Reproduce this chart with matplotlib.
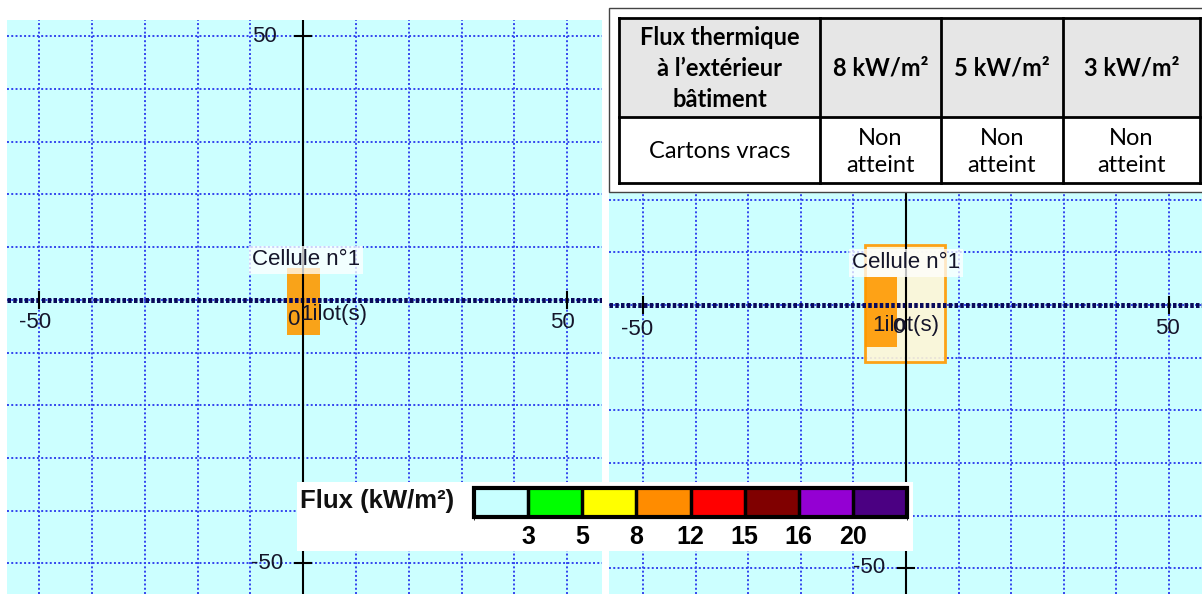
import matplotlib
matplotlib.use("Agg")
import matplotlib.pyplot as plt
import matplotlib.patches as patches
from matplotlib.colors import ListedColormap, BoundaryNorm
from matplotlib.cm import ScalarMappable

# --- data ---------------------------------------------------------------
# left map: one orange ilot (x0, x1, y0, y1)
left_ilots = [(-3.0, 3.2, -6.6, 6.1)]
left_ilot_colors = ["#ff9900"]
# right map: cell outline + orange ilot
right_ilots = [(-7.8, 7.4, -10.8, 11.4), (-7.8, -1.7, -8.0, 5.3)]
right_ilot_colors = ["#fff6d6", "#ff9900"]

cell_label = "Cellule n°1"
ilot_label = "1ilot(s)"

flux_bounds = [0, 3, 5, 8, 12, 15, 16, 20, 25]
flux_ticks = [3, 5, 8, 12, 15, 16, 20]
flux_colors = ["#c8ffff", "#00ff00", "#ffff00", "#ff8c00",
               "#ff0000", "#800000", "#9400d3", "#4b0082"]

table_header = ["Flux thermique\nà l’extérieur\nbâtiment", "8 kW/m²", "5 kW/m²", "3 kW/m²"]
table_row = ["Cartons vracs", "Non\natteint", "Non\natteint", "Non\natteint"]

W, H = 1202, 594
fig = plt.figure(figsize=(W / 100, H / 100), dpi=100)
fig.patch.set_facecolor("white")

txt = dict(family="Liberation Sans", color="#15152a")


def draw_map(rect, xlim, ylim, ilots, colors, labels):
    ax = fig.add_axes(rect)
    ax.set_xlim(*xlim)
    ax.set_ylim(*ylim)
    ax.set_facecolor("#ccffff")
    for s in ax.spines.values():
        s.set_visible(False)
    ax.set_xticks(range(-50, 60, 10))
    ax.set_yticks(range(-50, 60, 10))
    ax.tick_params(length=0, labelbottom=False, labelleft=False)
    ax.grid(True, color="#3344ee", linestyle=(0, (1, 1.2)), linewidth=1.4)
    ax.set_axisbelow(True)

    for i, (x0, x1, y0, y1) in enumerate(ilots):
        ec = "#ff9900" if i == 0 and len(ilots) > 1 else "none"
        ax.add_patch(patches.Rectangle((x0, y0), x1 - x0, y1 - y0,
                                       facecolor=colors[i], edgecolor=ec,
                                       lw=2, alpha=0.9, zorder=2))

    # axes through origin
    ax.axhline(0, color="#0a0a5a", lw=3.6, linestyle=(0, (0.7, 0.45)), zorder=3)
    ax.axvline(0, color="black", lw=1.5, zorder=3)
    for v in (-50, 50):
        ax.plot([v, v], [-1.5, 1.5], color="black", lw=1.5, zorder=4)
        ax.plot([-1.5, 1.5], [v, v], color="black", lw=1.5, zorder=4)

    for (x, y, s, ha) in labels["ticks"]:
        ax.text(x, y, s, ha=ha, va="center", fontsize=16, zorder=5, **txt)

    cx, cy = labels["cell"]
    ax.text(cx, cy, cell_label, ha="left", va="center", fontsize=16, zorder=5,
            bbox=dict(boxstyle="square,pad=0.15", facecolor="white",
                      edgecolor="none", alpha=0.75), **txt)
    zx, zy = labels["zero"]
    ax.text(zx, zy, "0", ha="center", va="center", fontsize=16, zorder=5, **txt)
    ix, iy = labels["ilot"]
    ax.text(ix, iy, ilot_label, ha="left", va="center", fontsize=16, zorder=6, **txt)
    return ax


draw_map([7 / W, 0, 595 / W, 574 / H], (-56.1, 56.6), (-55.8, 53.1),
         left_ilots, left_ilot_colors,
         {"ticks": [(-47.8, -4.3, "-50", "right"), (51.5, -4.3, "50", "right"),
                    (-4.9, 50, "50", "right"), (-3.8, -50, "-50", "right")],
          "cell": (-9.7, 7.6), "zero": (-1.9, -3.8), "ilot": (-0.6, -2.8)})

draw_map([609 / W, 0, 593 / W, 570 / H], (-56.5, 56.3), (-54.9, 53.4),
         right_ilots, right_ilot_colors,
         {"ticks": [(-48.2, -4.7, "-50", "right"), (52.1, -4.4, "50", "right"),
                    (-4.0, -49.8, "-50", "right")],
          "cell": (-10.3, 8.0), "zero": (-1.5, -4.2), "ilot": (-6.5, -3.8)})

# --- overlay in pixel coordinates: table + legend box ----------------------
ov = fig.add_axes([0, 0, 1, 1])
ov.set_xlim(0, W)
ov.set_ylim(H, 0)
ov.axis("off")
ov.patch.set_alpha(0)

# table
ov.add_patch(patches.Rectangle((609, 8), 600, 184, facecolor="white",
                               edgecolor="#444444", lw=1))
col_x = [619, 820, 941, 1063, 1200]
row_y = [18, 117, 183]
ov.add_patch(patches.Rectangle((col_x[0], row_y[0]), col_x[-1] - col_x[0],
                               row_y[1] - row_y[0], facecolor="#e6e6e6",
                               edgecolor="none"))
for x in col_x:
    ov.plot([x, x], [row_y[0], row_y[-1]], color="black", lw=2)
for y in row_y:
    ov.plot([col_x[0], col_x[-1]], [y, y], color="black", lw=2)
for i in range(4):
    cx = (col_x[i] + col_x[i + 1]) / 2
    ov.text(cx, (row_y[0] + row_y[1]) / 2 + 1, table_header[i], ha="center",
            va="center", fontsize=17, fontweight="bold", family="Lato",
            linespacing=1.4, color="black")
    ov.text(cx, (row_y[1] + row_y[2]) / 2 + 2, table_row[i], ha="center",
            va="center", fontsize=17, family="Lato", linespacing=1.4,
            color="black")

# legend box
ov.add_patch(patches.Rectangle((297, 482), 616, 69, facecolor="white",
                               edgecolor="none"))
ov.text(300, 501, "Flux (kW/m²)", ha="left", va="center", fontsize=18.5,
        fontweight="bold", family="Liberation Sans", color="#111111")

cax = fig.add_axes([474 / W, (H - 517) / H, 433 / W, 29 / H])
cmap = ListedColormap(flux_colors)
norm = BoundaryNorm(flux_bounds, cmap.N)
cb = fig.colorbar(ScalarMappable(norm=norm, cmap=cmap), cax=cax,
                  orientation="horizontal", spacing="uniform",
                  ticks=flux_ticks, drawedges=True)
cb.outline.set_linewidth(3)
cb.dividers.set_linewidth(2.5)
cb.dividers.set_color("black")
cax.tick_params(length=0, pad=6)
for t in cax.get_xticklabels():
    t.set_fontsize(18)
    t.set_fontweight("bold")
    t.set_family("Liberation Sans")

fig.savefig("out.png", dpi=100)
